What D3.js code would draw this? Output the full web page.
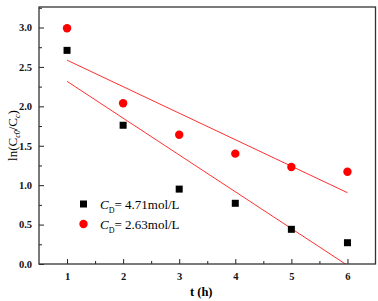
<!DOCTYPE html>
<html><head><meta charset="utf-8">
<script src="https://cdn.jsdelivr.net/npm/d3@7/dist/d3.min.js"></script>
<style>body{margin:0;background:#fff}svg{display:block}text{font-family:"Liberation Serif","Times New Roman",serif}</style>
</head><body><svg id="c" width="378" height="301"></svg>
<script>
const times = [1, 2, 3, 4, 5, 6];
const seriesA = [2.71, 1.76, 0.95, 0.77, 0.44, 0.27]; // CD = 4.71 mol/L
const seriesB = [2.99, 2.04, 1.64, 1.40, 1.23, 1.17]; // CD = 2.63 mol/L
const xTicks = [1, 2, 3, 4, 5, 6];
const yTicks = [0.0, 0.5, 1.0, 1.5, 2.0, 2.5, 3.0];

const svg = d3.select("#c");
const L = 39, R = 375.5, T = 7, B = 264;
const x = d3.scaleLinear().domain([0.5, 6.5]).range([L, R]);
const y = d3.scaleLinear().domain([0, 3.26]).range([B, T]);

svg.append("defs").append("clipPath").attr("id","clip")
  .append("rect").attr("x",L).attr("y",T).attr("width",R-L).attr("height",B-T);

// fit lines (least squares)
function fit(xs, ys){
  const mx=d3.mean(xs), my=d3.mean(ys);
  const s=d3.sum(xs,(v,i)=>(v-mx)*(ys[i]-my))/d3.sum(xs,v=>(v-mx)**2);
  return [s, my-s*mx];
}
const g = svg.append("g").attr("clip-path","url(#clip)");
[seriesA, seriesB].forEach(ys=>{
  const [s,b]=fit(times, ys);
  g.append("line").attr("x1",x(1)).attr("y1",y(s*1+b)).attr("x2",x(6)).attr("y2",y(s*6+b))
    .attr("stroke","#ff3030").attr("stroke-width",1);
});

// axes
const ff = "Liberation Serif, Times New Roman, serif";
svg.append("g").attr("transform",`translate(0,${B})`)
  .call(d3.axisBottom(x).tickValues(xTicks).tickFormat(d3.format("d")).tickSizeInner(-5).tickSizeOuter(0).tickPadding(9))
  .attr("font-family", ff);
svg.append("g").attr("transform",`translate(${L},0)`)
  .call(d3.axisLeft(y).tickValues(yTicks).tickFormat(d3.format(".1f")).tickSizeInner(-5).tickSizeOuter(0).tickPadding(7))
  .attr("font-family", ff);
// minor ticks
svg.append("g").attr("transform",`translate(0,${B})`)
  .call(d3.axisBottom(x).tickValues([1.5,2.5,3.5,4.5,5.5]).tickSizeInner(-3).tickSizeOuter(0).tickFormat(""));
svg.append("g").attr("transform",`translate(${L},0)`)
  .call(d3.axisLeft(y).tickValues([0.25,0.75,1.25,1.75,2.25,2.75,3.25]).tickSizeInner(-3).tickSizeOuter(0).tickFormat(""));
svg.selectAll(".domain").remove();
svg.selectAll(".tick line").attr("stroke","#222");
svg.selectAll(".tick text").attr("font-size",10.5).attr("font-weight","bold").attr("fill","#111");

// frame
svg.append("rect").attr("x",L).attr("y",T).attr("width",R-L).attr("height",B-T)
  .attr("fill","none").attr("stroke","#333").attr("stroke-width",1.3);

// points
svg.append("g").selectAll("rect").data(times).join("rect")
  .attr("x",(d)=>x(d)-3.5).attr("y",(d,i)=>y(seriesA[i])-3.5).attr("width",7).attr("height",7).attr("fill","#000");
svg.append("g").selectAll("circle").data(times).join("circle")
  .attr("cx",(d)=>x(d)).attr("cy",(d,i)=>y(seriesB[i])).attr("r",4.2).attr("fill","#ff0000");

// legend
svg.append("rect").attr("x",80).attr("y",200.5).attr("width",7).attr("height",7).attr("fill","#000");
svg.append("circle").attr("cx",83.5).attr("cy",224).attr("r",4.2).attr("fill","#ff0000");
function legText(yy, val){
  const t = svg.append("text").attr("x",100).attr("y",yy).attr("font-size",13).attr("fill","#000");
  t.append("tspan").attr("font-style","italic").text("C");
  t.append("tspan").attr("font-size",8).attr("dy",4).text("D");
  t.append("tspan").attr("dy",-4).text("= " + val + "mol/L");
}
legText(208.5, "4.71");
legText(228.5, "2.63");

// axis titles
svg.append("text").attr("x",(L+R)/2 - 6).attr("y",296).attr("text-anchor","middle")
  .attr("font-size",12.5).attr("font-weight","bold").text("t (h)");
const yt = svg.append("text").attr("transform",`translate(17,${(T+B)/2}) rotate(-90)`)
  .attr("text-anchor","middle").attr("font-size",13);
yt.append("tspan").text("ln(C");
yt.append("tspan").attr("font-size",8).attr("dy",3).attr("font-style","italic").text("c0");
yt.append("tspan").attr("dy",-3).text("/C");
yt.append("tspan").attr("font-size",8).attr("dy",3).attr("font-style","italic").text("c");
yt.append("tspan").attr("dy",-3).text(")");
</script></body></html>
